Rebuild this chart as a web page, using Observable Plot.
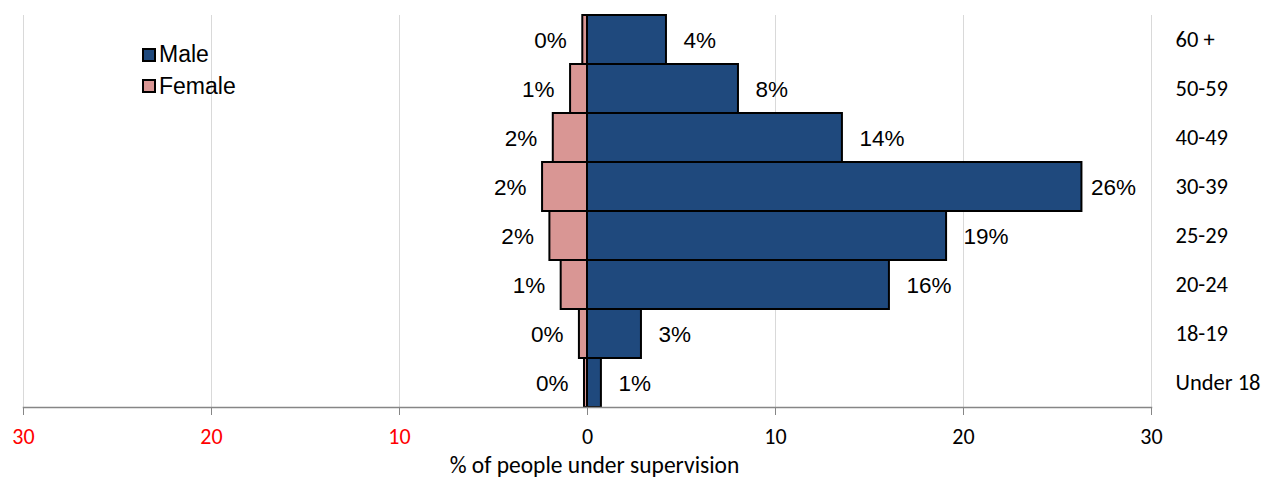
<!DOCTYPE html>
<html>
<head>
<meta charset="utf-8">
<script src="https://cdn.jsdelivr.net/npm/d3@7"></script>
<script src="https://cdn.jsdelivr.net/npm/@observablehq/plot@0.6"></script>
<style>
  html, body { margin: 0; padding: 0; background: #fff; }
  #wrap { position: relative; width: 1266px; height: 477px; overflow: hidden; }
  .legend { position: absolute; left: 142px; top: 39px; font-family: "Liberation Sans", Arial, sans-serif; font-size: 23px; color: #000; }
  .legend .item { display: flex; align-items: center; height: 31.5px; }
  .legend .sw { width: 10px; height: 10px; border: 2px solid #000; margin-right: 3px; }
</style>
</head>
<body>
<div id="wrap"></div>
<script>
// Age groups, top to bottom
const ageGroups = ["60 +", "50-59", "40-49", "30-39", "25-29", "20-24", "18-19", "Under 18"];
// Share of people under supervision (%), by sex
const maleValues   = [4.2, 8.03, 13.56, 26.3, 19.1, 16.06, 2.87, 0.74];
const femaleValues = [0.25, 0.9, 1.82, 2.39, 2.0, 1.4, 0.43, 0.16];
// Axis ticks
const xTicks = [-30, -20, -10, 0, 10, 20, 30];
const axisTitle = "% of people under supervision";

const maleColor = "#1F497D";
const femaleColor = "#D99694";
const labelFont = "Liberation Sans, Arial, sans-serif";
const axisFont = "Carlito, Calibri, Lato, sans-serif";

const male = ageGroups.map((age, i) => ({age, value: maleValues[i]}));
const female = ageGroups.map((age, i) => ({age, value: femaleValues[i]}));
const pct = v => Math.round(v) + "%";
const labelStyle = {y: "age", text: d => pct(d.value), dy: 1, fontSize: 22.5, fontFamily: labelFont, fill: "#000"};

const chart = Plot.plot({
  width: 1266,
  height: 477,
  marginLeft: 23,
  marginRight: 115,
  marginTop: 15,
  marginBottom: 70,
  x: {domain: [-30, 30]},
  y: {domain: ageGroups, padding: 0},
  marks: [
    Plot.ruleX(xTicks, {stroke: "#d9d9d9", strokeWidth: 1}),
    Plot.barX(female, {x1: 0, x2: d => -d.value, y: "age", fill: femaleColor, stroke: "#000", strokeWidth: 2}),
    Plot.barX(male, {x1: 0, x2: "value", y: "age", fill: maleColor, stroke: "#000", strokeWidth: 2}),
    Plot.text(female, {...labelStyle, x: d => -d.value, textAnchor: "end", dx: -16}),
    Plot.text(male, {...labelStyle, x: "value", textAnchor: "start", dx: 17, filter: d => d.value <= 25}),
    // the longest bar's label is pulled in to stay inside the plot area
    Plot.text(male, {...labelStyle, x: "value", textAnchor: "start", dx: 9, filter: d => d.value > 25}),
    Plot.frame({anchor: "bottom", stroke: "#868686", strokeWidth: 1.5}),
    Plot.axisX({ticks: xTicks, tickSize: 8, tickPadding: 13, stroke: "#868686",
      tickFormat: d => Math.abs(d), fill: d => (d < 0 ? "red" : "black"),
      fontSize: 22, fontFamily: axisFont, label: null}),
    Plot.text([axisTitle], {frameAnchor: "bottom", dx: 7, dy: 65, text: d => d, fontSize: 23.5,
      fontFamily: axisFont, fill: "#000"}),
    Plot.axisY({anchor: "right", tickSize: 0, tickPadding: 24, fontSize: 22.5,
      fontFamily: axisFont, fill: "#000", label: null})
  ]
});

const wrap = document.getElementById("wrap");
wrap.appendChild(chart);

// Series key
const legend = document.createElement("div");
legend.className = "legend";
[["Male", maleColor], ["Female", femaleColor]].forEach(([name, color]) => {
  const item = document.createElement("div");
  item.className = "item";
  const sw = document.createElement("span");
  sw.className = "sw";
  sw.style.background = color;
  const label = document.createElement("span");
  label.textContent = name;
  item.appendChild(sw);
  item.appendChild(label);
  legend.appendChild(item);
});
wrap.appendChild(legend);
</script>
</body>
</html>
